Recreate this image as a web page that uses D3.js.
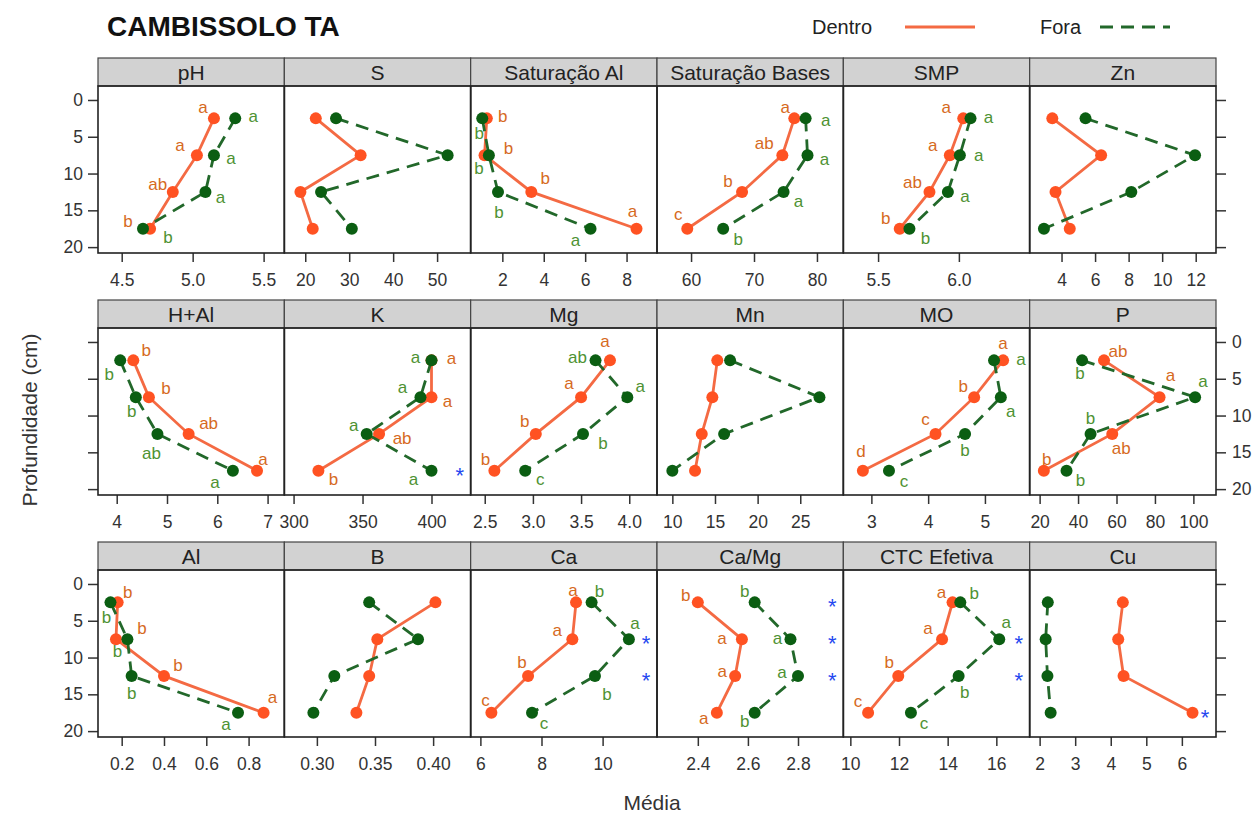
<!DOCTYPE html>
<html>
<head>
<meta charset="utf-8">
<script src="https://cdn.jsdelivr.net/npm/d3@7"></script>
<style>
  html, body { margin: 0; padding: 0; background: #fff; }
  svg { display: block; font-family: "Liberation Sans", Arial, sans-serif; }
</style>
</head>
<body>
<svg id="chart" width="1258" height="817"></svg>
<script>
// ---- data -------------------------------------------------------------
const variables = ["pH", "S", "Saturação Al", "Saturação Bases", "SMP", "Zn",
                   "H+Al", "K", "Mg", "Mn", "MO", "P",
                   "Al", "B", "Ca", "Ca/Mg", "CTC Efetiva", "Cu"];
const depths = [2.5, 7.5, 12.5, 17.5];

const dentroMeans = [
  [5.15, 5.03, 4.86, 4.70],
  [22.4, 32.6, 18.9, 21.7],
  [1.25, 1.14, 3.40, 8.48],
  [76.4, 74.5, 68.1, 59.4],
  [6.027, 5.944, 5.818, 5.634],
  [3.45, 6.36, 3.64, 4.49],
  [4.33, 4.64, 5.43, 6.79],
  [400, 400, 362, 318],
  [3.80, 3.50, 3.03, 2.60],
  [15.27, 14.69, 13.45, 12.66],
  [5.32, 4.81, 4.13, 2.85],
  [53.5, 82.4, 57.8, 22.2],
  [0.181, 0.173, 0.40, 0.871],
  [0.402, 0.352, 0.345, 0.334],
  [9.13, 9.01, 7.56, 6.36],
  [2.40, 2.576, 2.549, 2.476],
  [14.2, 13.77, 11.97, 10.73],
  [4.34, 4.21, 4.36, 6.30]
];
const foraMeans = [
  [5.30, 5.15, 5.09, 4.65],
  [27.0, 52.4, 23.6, 30.6],
  [1.03, 1.35, 1.79, 6.26],
  [78.2, 78.5, 74.7, 65.1],
  [6.072, 6.006, 5.932, 5.694],
  [5.43, 11.96, 8.16, 2.95],
  [4.07, 4.38, 4.81, 6.31],
  [400, 392, 353, 400],
  [3.65, 3.98, 3.52, 2.92],
  [16.77, 27.25, 16.07, 10.0],
  [5.16, 5.28, 4.65, 3.31],
  [42.1, 100.9, 46.5, 34.0],
  [0.147, 0.227, 0.247, 0.75],
  [0.345, 0.387, 0.315, 0.297],
  [9.64, 10.86, 9.75, 7.69],
  [2.627, 2.77, 2.80, 2.627],
  [14.52, 16.12, 14.45, 12.49],
  [2.23, 2.17, 2.22, 2.31]
];

// Tukey letters by depth (null = not shown)
const dentroLetters = [
  ["a", "a", "ab", "b"], null, ["b", "b", "b", "a"], ["a", "ab", "b", "c"], ["a", "a", "ab", "b"], null,
  ["b", "b", "ab", "a"], ["a", "a", "ab", "b"], ["a", "a", "b", "b"], null, ["a", "b", "c", "d"], ["ab", "a", "ab", "b"],
  ["b", "b", "b", "a"], null, ["a", "a", "b", "c"], ["b", "a", "a", "a"], ["a", "a", "b", "c"], null
];
const foraLetters = [
  ["a", "a", "a", "b"], null, ["b", "b", "b", "a"], ["a", "a", "a", "b"], ["a", "a", "a", "b"], null,
  ["b", "b", "ab", "a"], ["a", "a", "a", "a"], ["ab", "a", "b", "c"], null, ["a", "a", "b", "c"], ["b", "a", "b", "b"],
  ["b", "b", "b", "a"], null, ["b", "a", "b", "c"], ["b", "a", "a", "b"], ["b", "a", "b", "c"], null
];

// depths where Dentro and Fora differ
const starDepths = [
  [], [], [], [], [], [],
  [], [17.5], [], [], [], [],
  [], [], [7.5, 12.5], [2.5, 7.5, 12.5], [7.5, 12.5], [17.5]
];

// x axis limits and ticks for each panel
const xLimits = [
  [4.333, 5.646], [15.24, 57.64], [0.47, 9.47], [54.59, 84.19], [5.285, 6.438], [2.10, 13.21],
  [3.628, 7.333], [293.3, 428.4], [2.354, 4.288], [8.20, 30.05], [2.506, 5.788], [14.82, 111.77],
  [0.088, 0.969], [0.272, 0.4323], [5.682, 11.78], [2.237, 2.981], [9.712, 17.37], [1.72, 6.96]
];
const xTickValues = [
  [4.5, 5.0, 5.5], [20, 30, 40, 50], [2, 4, 6, 8], [60, 70, 80], [5.5, 6.0], [4, 6, 8, 10, 12],
  [4, 5, 6, 7], [300, 350, 400], [2.5, 3.0, 3.5, 4.0], [10, 15, 20, 25], [3, 4, 5], [20, 40, 60, 80, 100],
  [0.2, 0.4, 0.6, 0.8], [0.30, 0.35, 0.40], [6, 8, 10], [2.4, 2.6, 2.8], [10, 12, 14, 16], [2, 3, 4, 5, 6]
];
const xTickLabels = [
  ["4.5", "5.0", "5.5"], ["20", "30", "40", "50"], ["2", "4", "6", "8"], ["60", "70", "80"], ["5.5", "6.0"], ["4", "6", "8", "10", "12"],
  ["4", "5", "6", "7"], ["300", "350", "400"], ["2.5", "3.0", "3.5", "4.0"], ["10", "15", "20", "25"], ["3", "4", "5"], ["20", "40", "60", "80", "100"],
  ["0.2", "0.4", "0.6", "0.8"], ["0.30", "0.35", "0.40"], ["6", "8", "10"], ["2.4", "2.6", "2.8"], ["10", "12", "14", "16"], ["2", "3", "4", "5", "6"]
];
const yTicks = [0, 5, 10, 15, 20];
const yLimits = [-1.9, 20.8];

// ---- letter placement (pixel offsets from each point) ------------------
const dentroLabelOffsets = [
  [[-11, -11], [-17, -10], [-15, -8], [-22, -8]], null,
  [[16, -2], [24, -7], [14, -14], [-4, -18]],
  [[-9, -11], [-18, -12], [-14, -11], [-9, -15]],
  [[-17, -11], [-17, -10], [-17, -10], [-14, -11]], null,
  [[13, -10], [17, -9], [20, -11], [6, -12]],
  [[20, -2], [16, 4], [23, 4], [15, 8]],
  [[-5, -19], [-12, -14], [-11, -13], [-9, -12]], null,
  [[0, -17], [-11, -11], [-10, -15], [-2, -20]],
  [[14, -9], [11, -22], [9, 14], [3, -12]],
  [[10, -10], [26, -11], [14, -11], [9, -16]], null,
  [[-3, -12], [-15, -9], [-6, -14], [-6, -13]],
  [[-12, -7], [-20, -1], [-13, -5], [-13, 5]],
  [[-11, -10], [-14, -11], [-9, -14], [-10, -12]], null
];
const foraLabelOffsets = [
  [[18, -2], [17, 3], [15, 5], [25, 8]], null,
  [[-3, 15], [-10, 13], [1, 20], [-15, 11]],
  [[20, 2], [17, 4], [15, 9], [15, 10]],
  [[18, -1], [19, 0], [17, 4], [16, 9]], null,
  [[-11, 14], [-4, 14], [-6, 19], [-18, 11]],
  [[-16, -3], [-18, -10], [-13, -9], [-18, 8]],
  [[-18, -3], [13, -11], [20, 9], [15, 8]], null,
  [[27, -1], [10, 14], [0, 16], [15, 10]],
  [[-2, 13], [8, -16], [0, -16], [14, 9]],
  [[-4, 15], [-10, 12], [0, 17], [-12, 11]], null,
  [[8, -11], [6, -16], [12, 18], [12, 10]],
  [[-10, -11], [-13, -1], [-16, -4], [-10, 8]],
  [[14, -9], [7, -17], [6, 16], [13, 10]], null
];

// ---- layout -------------------------------------------------------------
const panelLeft = 98, panelRight = 1216;
const nCols = 6;
const panelW = (panelRight - panelLeft) / nCols;
const panelTops = [86, 328, 570];
const panelH = 167;
const stripH = 28;

const colors = {
  Dentro: { line: "#f46a43", point: "#ff5222", text: "#d66a1e" },
  Fora:   { line: "#22682a", point: "#0b5e12", text: "#4e9233" }
};
const foraDash = "13,8";

const svg = d3.select("#chart");

// title
svg.append("text")
  .attr("x", 107).attr("y", 36)
  .attr("font-size", 28).attr("font-weight", "bold").attr("fill", "#111")
  .text("CAMBISSOLO TA");

// legend
const legend = [
  { name: "Dentro", tx: 812, x1: 905, x2: 975, dash: null },
  { name: "Fora", tx: 1040, x1: 1100, x2: 1170, dash: foraDash }
];
legend.forEach(l => {
  svg.append("text").attr("x", l.tx).attr("y", 27).attr("dy", "0.35em")
    .attr("font-size", 20).attr("fill", "#222").text(l.name);
  svg.append("line").attr("x1", l.x1).attr("x2", l.x2).attr("y1", 27).attr("y2", 27)
    .attr("stroke", colors[l.name].line).attr("stroke-width", 2.8)
    .attr("stroke-dasharray", l.dash);
});

// axis titles
svg.append("text")
  .attr("transform", "translate(30,420) rotate(-90)")
  .attr("text-anchor", "middle").attr("dy", "0.35em")
  .attr("font-size", 21).attr("fill", "#333")
  .text("Profundidade (cm)");
svg.append("text")
  .attr("x", 652).attr("y", 803).attr("dy", "0.35em")
  .attr("text-anchor", "middle").attr("font-size", 21).attr("fill", "#333")
  .text("Média");

// ---- panels -------------------------------------------------------------
variables.forEach((name, i) => {
  const col = i % nCols, row = Math.floor(i / nCols);
  const x0 = panelLeft + col * panelW, x1 = x0 + panelW;
  const y0 = panelTops[row], y1 = y0 + panelH;

  const x = d3.scaleLinear().domain(xLimits[i]).range([x0, x1]);
  const y = d3.scaleLinear().domain(yLimits).range([y0, y1]);

  const g = svg.append("g");

  // strip
  g.append("rect").attr("x", x0).attr("y", y0 - stripH).attr("width", panelW).attr("height", stripH)
    .attr("fill", "#d2d2d2").attr("stroke", "#444").attr("stroke-width", 1.2);
  g.append("text").attr("x", (x0 + x1) / 2).attr("y", y0 - stripH / 2).attr("dy", "0.36em")
    .attr("text-anchor", "middle").attr("font-size", 21).attr("fill", "#222").text(name);

  // bottom axis
  const xAxis = d3.axisBottom(x).tickValues(xTickValues[i])
    .tickFormat((d, k) => xTickLabels[i][k]).tickSize(9).tickPadding(12);
  const ax = g.append("g").attr("transform", `translate(0,${y1})`).call(xAxis);
  ax.select(".domain").remove();
  ax.selectAll("line").attr("stroke", "#333").attr("stroke-width", 1.5);
  ax.selectAll("text").attr("font-size", 17.5).attr("fill", "#333")
    .attr("font-family", "Liberation Sans, Arial, sans-serif");

  // y axes: ticks on outer columns, labels alternating by row
  if (col === 0) {
    const yAxis = d3.axisLeft(y).tickValues(yTicks).tickSize(10).tickPadding(5)
      .tickFormat(row === 1 ? () => "" : d3.format("d"));
    const ay = g.append("g").attr("transform", `translate(${x0},0)`).call(yAxis);
    ay.select(".domain").remove();
    ay.selectAll("line").attr("stroke", "#333").attr("stroke-width", 1.5);
    ay.selectAll("text").attr("font-size", 17.5).attr("fill", "#333")
      .attr("font-family", "Liberation Sans, Arial, sans-serif");
  }
  if (col === nCols - 1) {
    const yAxis = d3.axisRight(y).tickValues(yTicks).tickSize(10).tickPadding(6)
      .tickFormat(row === 1 ? d3.format("d") : () => "");
    const ay = g.append("g").attr("transform", `translate(${x1},0)`).call(yAxis);
    ay.select(".domain").remove();
    ay.selectAll("line").attr("stroke", "#333").attr("stroke-width", 1.5);
    ay.selectAll("text").attr("font-size", 17.5).attr("fill", "#333")
      .attr("font-family", "Liberation Sans, Arial, sans-serif");
  }

  // panel frame
  g.append("rect").attr("x", x0).attr("y", y0).attr("width", panelW).attr("height", panelH)
    .attr("fill", "none").attr("stroke", "#222").attr("stroke-width", 1.6);

  // series
  const series = [
    { key: "Dentro", vals: dentroMeans[i], letters: dentroLetters[i], offs: dentroLabelOffsets[i], dash: null },
    { key: "Fora", vals: foraMeans[i], letters: foraLetters[i], offs: foraLabelOffsets[i], dash: foraDash }
  ];
  const line = d3.line().x(d => x(d[0])).y(d => y(d[1]));

  series.forEach(s => {
    const pts = s.vals.map((v, k) => [v, depths[k]]);
    g.append("path").attr("d", line(pts)).attr("fill", "none")
      .attr("stroke", colors[s.key].line).attr("stroke-width", 2.8)
      .attr("stroke-dasharray", s.dash);
    g.selectAll(null).data(pts).enter().append("circle")
      .attr("cx", d => x(d[0])).attr("cy", d => y(d[1])).attr("r", 6)
      .attr("fill", colors[s.key].point);
  });

  series.forEach(s => {
    if (!s.letters) return;
    s.letters.forEach((lt, k) => {
      g.append("text")
        .attr("x", x(s.vals[k]) + s.offs[k][0])
        .attr("y", y(depths[k]) + s.offs[k][1])
        .attr("dy", "0.35em").attr("text-anchor", "middle")
        .attr("font-size", 17).attr("fill", colors[s.key].text).text(lt);
    });
  });

  // significance marks
  starDepths[i].forEach(dp => {
    g.append("text").attr("x", x1 - 11).attr("y", y(dp) + 12)
      .attr("text-anchor", "middle").attr("font-size", 22).attr("fill", "#2447f0").text("*");
  });
});
</script>
</body>
</html>
